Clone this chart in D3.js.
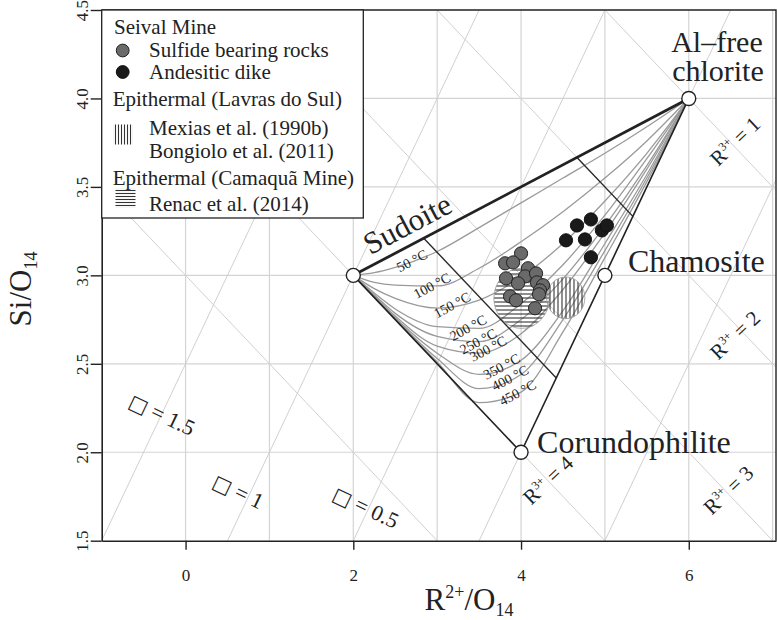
<!DOCTYPE html>
<html><head><meta charset="utf-8">
<script src="https://cdn.jsdelivr.net/npm/d3@7"></script>
<style>
body{margin:0;background:#fff;}
svg{display:block;font-family:"Liberation Serif","Times New Roman",serif;}
</style></head><body>
<svg id="chart" width="777" height="620"></svg>
<script>
// ---------- data ----------
const xTickValues = [0, 2, 4, 6];
const yTickValues = [1.5, 2.0, 2.5, 3.0, 3.5, 4.0, 4.5];
const xGridValues = [0, 1, 2, 3, 4, 5, 6, 7];
const yGridValues = [2.0, 2.5, 3.0, 3.5, 4.0];
const vacancyOffsets = [2.5, 1, -0.5, -2, -3.5];   // Si = R2 + c
const vacancyLabelText = ["1.5", "1", "0.5"];
const vacancyLabelR2 = [-0.28, 0.63, 2.15];
const vacancyLabelSi = [2.214, 1.78, 1.69];
const r3Intercepts = [7, 6, 5, 4, 3];               // Si = k - R2/2
const r3LabelText = ["1", "2", "3", "4"];
const r3LabelR2 = [6.55, 6.55, 6.47, 4.32];
const r3LabelSi = [3.759, 2.663, 1.787, 1.844];
const tieIntercepts = [6, 4.63];
const endMemberNames = ["Sudoite", "Al–free chlorite", "Chamosite", "Corundophilite"];
const endMemberR2 = [2, 6, 5, 4];
const endMemberSi = [3, 4, 3, 2];
const sulfideR2 = [4.00, 3.81, 3.905, 3.821, 4.083, 4.048, 4.179, 4.19, 3.964, 4.262, 4.226, 4.214, 3.869, 3.94, 4.167];
const sulfideSi = [3.124, 3.068, 3.073, 2.983, 3.04, 2.994, 3.011, 2.96, 2.955, 2.944, 2.915, 2.893, 2.881, 2.859, 2.814];
const dikeR2 = [4.667, 4.833, 4.964, 5.024, 4.536, 4.762, 4.833];
const dikeSi = [3.282, 3.316, 3.254, 3.282, 3.198, 3.203, 3.102];
const isothermT = [50, 100, 150, 200, 250, 300, 350, 400, 450];
const isothermR2 = [2, 2.25, 2.5, 3, 3.5, 4, 4.5, 5, 5.5, 6];
const isothermSi = [
  [3, 3.015, 3.045, 3.135, 3.27, 3.41, 3.55, 3.69, 3.84, 4],
  [3, 2.96, 2.945, 2.94, 3.04, 3.19, 3.36, 3.55, 3.76, 4],
  [3, 2.925, 2.87, 2.815, 2.86, 2.99, 3.18, 3.42, 3.69, 4],
  [3, 2.9, 2.81, 2.71, 2.70, 2.84, 3.06, 3.34, 3.66, 4],
  [3, 2.89, 2.785, 2.655, 2.625, 2.75, 2.98, 3.28, 3.62, 4],
  [3, 2.885, 2.77, 2.60, 2.56, 2.67, 2.92, 3.24, 3.60, 4],
  [3, 2.88, 2.76, 2.56, 2.44, 2.52, 2.80, 3.18, 3.57, 4],
  [3, 2.878, 2.755, 2.53, 2.36, 2.44, 2.75, 3.14, 3.55, 4],
  [3, 2.877, 2.752, 2.51, 2.28, 2.34, 2.68, 3.10, 3.53, 4]
];
const isothermLabelR2 = [2.70, 2.94, 3.18, 3.37, 3.49, 3.61, 3.77, 3.87, 3.96];
const fieldNames = ["Renac et al. (2014)", "Mexias / Bongiolo"];
const fieldR2 = [4.006, 4.533];
const fieldSi = [2.87, 2.873];
const fieldHalfR2 = [0.33, 0.228];
const fieldHalfSi = [0.17, 0.118];
const fieldPattern = ["hatchH", "hatchV"];

// ---------- scales ----------
const svg = d3.select("#chart");
const x = d3.scaleLinear().domain([-1, 7.04]).range([101.7, 776]);
const y = d3.scaleLinear().domain([1.5, 4.5]).range([540.7, 10]);
const [xmin, xmax] = x.domain(), [ymin, ymax] = y.domain();
const SERIF = "'Liberation Serif','Times New Roman',serif";

const defs = svg.append("defs");
defs.append("clipPath").attr("id", "plotClip").append("rect")
  .attr("x", x(xmin)).attr("y", y(ymax)).attr("width", x(xmax) - x(xmin)).attr("height", y(ymin) - y(ymax));
function hatch(id, vertical, gap) {
  const p = defs.append("pattern").attr("id", id).attr("patternUnits", "userSpaceOnUse")
    .attr("width", gap).attr("height", gap);
  if (vertical) p.append("line").attr("x1", gap / 2).attr("x2", gap / 2).attr("y1", 0).attr("y2", gap);
  else p.append("line").attr("y1", gap / 2).attr("y2", gap / 2).attr("x1", 0).attr("x2", gap);
  p.select("line").attr("stroke", "#333").attr("stroke-width", 1.1);
}
hatch("hatchH", false, 4);
hatch("hatchV", true, 4);
hatch("hatchHs", false, 3);
hatch("hatchVs", true, 3);

const plot = svg.append("g").attr("clip-path", "url(#plotClip)");

// grid
plot.selectAll(".vg").data(xGridValues).join("line")
  .attr("x1", d => x(d)).attr("x2", d => x(d)).attr("y1", y(ymin)).attr("y2", y(ymax))
  .attr("stroke", "#d4d4d4").attr("stroke-width", 1.2);
plot.selectAll(".hg").data(yGridValues).join("line")
  .attr("y1", d => y(d)).attr("y2", d => y(d)).attr("x1", x(xmin)).attr("x2", x(xmax))
  .attr("stroke", "#d4d4d4").attr("stroke-width", 1.2);

// vacancy and R3+ isolines
plot.selectAll(".vac").data(vacancyOffsets).join("line")
  .attr("x1", d => x(xmin)).attr("y1", d => y(xmin + d))
  .attr("x2", d => x(xmax)).attr("y2", d => y(xmax + d))
  .attr("stroke", "#d0d0d0").attr("stroke-width", 1);
plot.selectAll(".r3").data(r3Intercepts).join("line")
  .attr("x1", d => x(xmin)).attr("y1", d => y(d - xmin / 2))
  .attr("x2", d => x(xmax)).attr("y2", d => y(d - xmax / 2))
  .attr("stroke", "#d0d0d0").attr("stroke-width", 1);

// isotherms
const line = d3.line().x(d => x(d[0])).y(d => y(d[1])).curve(d3.curveMonotoneX);
isothermSi.forEach((si, i) => {
  plot.append("path").attr("d", line(isothermR2.map((r, j) => [r, si[j]])))
    .attr("fill", "none").attr("stroke", "#9a9a9a").attr("stroke-width", 1.3);
});

// hatched fields
fieldR2.forEach((r, i) => {
  plot.append("ellipse").attr("cx", x(r)).attr("cy", y(fieldSi[i]))
    .attr("rx", x(r + fieldHalfR2[i]) - x(r)).attr("ry", y(fieldSi[i]) - y(fieldSi[i] + fieldHalfSi[i]))
    .attr("fill", `url(#${fieldPattern[i]})`).attr("stroke", "#999").attr("stroke-width", 0.8);
});

// tie lines inside the triangle (R3+ isolines between top and right edges)
tieIntercepts.forEach(k => {
  const r2a = (k - 2.5) / 0.75, r2b = (k + 2) / 1.5;
  plot.append("line").attr("x1", x(r2a)).attr("y1", y(k - r2a / 2)).attr("x2", x(r2b)).attr("y2", y(k - r2b / 2))
    .attr("stroke", "#2a2a2a").attr("stroke-width", 1.4);
});

// triangle edges
const S = [endMemberR2[0], endMemberSi[0]], A = [endMemberR2[1], endMemberSi[1]], C = [endMemberR2[3], endMemberSi[3]];
plot.append("line").attr("x1", x(S[0])).attr("y1", y(S[1])).attr("x2", x(A[0])).attr("y2", y(A[1]))
  .attr("stroke", "#222").attr("stroke-width", 2.8);
plot.append("line").attr("x1", x(S[0])).attr("y1", y(S[1])).attr("x2", x(C[0])).attr("y2", y(C[1]))
  .attr("stroke", "#222").attr("stroke-width", 1.6);
plot.append("line").attr("x1", x(C[0])).attr("y1", y(C[1])).attr("x2", x(A[0])).attr("y2", y(A[1]))
  .attr("stroke", "#222").attr("stroke-width", 1.6);

// isotherm labels
isothermT.forEach((t, i) => {
  const lr = isothermLabelR2[i];
  const si = d3.scaleLinear().domain(isothermR2).range(isothermSi[i])(lr);
  plot.append("text").attr("transform", `translate(${x(lr)},${y(si)}) rotate(-28)`)
    .attr("text-anchor", "middle").attr("dy", "0.32em")
    .attr("font-family", SERIF).attr("font-size", 14).attr("fill", "#222")
    .text(`${t} °C`);
});

// data points
plot.selectAll(".sulf").data(sulfideR2).join("circle")
  .attr("cx", d => x(d)).attr("cy", (d, i) => y(sulfideSi[i])).attr("r", 6.6)
  .attr("fill", "#6a6a6a").attr("stroke", "#222").attr("stroke-width", 1);
plot.selectAll(".dike").data(dikeR2).join("circle")
  .attr("cx", d => x(d)).attr("cy", (d, i) => y(dikeSi[i])).attr("r", 6.6)
  .attr("fill", "#1a1a1a").attr("stroke", "#111").attr("stroke-width", 1);

// end-member vertices
plot.selectAll(".vert").data(endMemberR2).join("circle")
  .attr("cx", d => x(d)).attr("cy", (d, i) => y(endMemberSi[i])).attr("r", 7)
  .attr("fill", "#fff").attr("stroke", "#222").attr("stroke-width", 1.4);

// end-member labels
const vx = i => x(endMemberR2[i]), vy = i => y(endMemberSi[i]);
plot.append("text").attr("transform", `translate(${vx(0) + 17},${vy(0) - 20}) rotate(-27.8)`)
  .attr("font-family", SERIF).attr("font-size", 31).attr("fill", "#222").text(endMemberNames[0]);
const alf = endMemberNames[1].split(" ");
plot.append("text").attr("x", vx(1) + 74).attr("y", vy(1) - 46).attr("text-anchor", "end")
  .attr("font-family", SERIF).attr("font-size", 30).attr("fill", "#222").text(alf[0]);
plot.append("text").attr("x", vx(1) + 75).attr("y", vy(1) - 17).attr("text-anchor", "end")
  .attr("font-family", SERIF).attr("font-size", 30).attr("fill", "#222").text(alf[1]);
plot.append("text").attr("x", vx(2) + 23).attr("y", vy(2) - 3)
  .attr("font-family", SERIF).attr("font-size", 32).attr("fill", "#222").text(endMemberNames[2]);
plot.append("text").attr("x", vx(3) + 16).attr("y", vy(3) + 1)
  .attr("font-family", SERIF).attr("font-size", 32).attr("fill", "#222").text(endMemberNames[3]);

// vacancy labels
vacancyLabelText.forEach((t, i) => {
  const tx = plot.append("text").attr("transform", `translate(${x(vacancyLabelR2[i])},${y(vacancyLabelSi[i])}) rotate(25.3)`)
    .attr("text-anchor", "middle").attr("dy", "0.35em")
    .attr("font-family", SERIF).attr("font-size", 22).attr("fill", "#222");
  tx.append("tspan").attr("font-family", "'DejaVu Sans',sans-serif").attr("font-size", 20).text("\u25A1");
  tx.append("tspan").text(` = ${t}`);
});
// R3+ labels
r3LabelText.forEach((t, i) => {
  const tx = plot.append("text").attr("transform", `translate(${x(r3LabelR2[i])},${y(r3LabelSi[i])}) rotate(-43.5)`)
    .attr("text-anchor", "middle").attr("dy", "0.35em")
    .attr("font-family", SERIF).attr("font-size", 21).attr("fill", "#222");
  tx.append("tspan").text("R");
  tx.append("tspan").attr("font-size", 12).attr("dy", -8).text("3+");
  tx.append("tspan").attr("dy", 8).text(` = ${t}`);
});

// ---------- axes ----------
const gx = svg.append("g").attr("transform", `translate(0,${y(ymin)})`)
  .call(d3.axisBottom(x).tickValues(xTickValues).tickSize(9).tickSizeOuter(0).tickFormat(d3.format("d")));
gx.select(".domain").attr("stroke", "#222").attr("stroke-width", 1.6);
gx.selectAll(".tick line").attr("stroke", "#222").attr("stroke-width", 1.4);
gx.selectAll(".tick text").attr("y", 40).attr("dy", 0).attr("fill", "#222")
  .attr("font-family", SERIF).attr("font-size", 17);

const gy = svg.append("g").attr("transform", `translate(${x(xmin)},0)`)
  .call(d3.axisLeft(y).tickValues(yTickValues).tickSize(11).tickSizeOuter(0).tickFormat(d3.format(".1f")));
gy.select(".domain").attr("stroke", "#222").attr("stroke-width", 1.6);
gy.selectAll(".tick line").attr("stroke", "#222").attr("stroke-width", 1.4);
gy.selectAll(".tick text").attr("x", 0).attr("dy", 0).attr("text-anchor", "middle")
  .attr("transform", "translate(-14,0) rotate(-90)").attr("fill", "#222")
  .attr("font-family", SERIF).attr("font-size", 17);

// frame (top & right)
svg.append("path").attr("d", `M${x(xmin)},${y(ymax)}H${x(xmax)}V${y(ymin)}`)
  .attr("fill", "none").attr("stroke", "#222").attr("stroke-width", 1.4);

// axis titles
const xt = svg.append("text").attr("x", 469).attr("y", 610).attr("text-anchor", "middle")
  .attr("font-family", SERIF).attr("font-size", 31).attr("fill", "#222");
xt.append("tspan").text("R");
xt.append("tspan").attr("font-size", 18).attr("dy", -12).text("2+");
xt.append("tspan").attr("dy", 12).text("/O");
xt.append("tspan").attr("font-size", 18).attr("dy", 6).text("14");
const yt = svg.append("text").attr("transform", "translate(31,289) rotate(-90)").attr("text-anchor", "middle")
  .attr("font-family", SERIF).attr("font-size", 31).attr("fill", "#222");
yt.append("tspan").text("Si/O");
yt.append("tspan").attr("font-size", 18).attr("dy", 6).text("14");

// ---------- legend ----------
const lg = svg.append("g");
lg.append("rect").attr("x", x(xmin)).attr("y", y(ymax)).attr("width", 363.3 - x(xmin)).attr("height", 218 - y(ymax))
  .attr("fill", "#fff").attr("stroke", "#222").attr("stroke-width", 1.3);
const legendText = [
  ["Seival Mine", 114, 34], ["Sulfide bearing rocks", 149, 57], ["Andesitic dike", 149, 79],
  ["Epithermal (Lavras do Sul)", 112.7, 106], ["Mexias et al. (1990b)", 149, 135], ["Bongiolo et al. (2011)", 149, 158],
  ["Epithermal (Camaquã Mine)", 112.7, 185], ["Renac et al. (2014)", 149, 211]
];
legendText.forEach(([t, lx, ly]) => lg.append("text").attr("x", lx).attr("y", ly)
  .attr("font-family", SERIF).attr("font-size", 21).attr("fill", "#222").text(t));
lg.append("circle").attr("cx", 122.7).attr("cy", 50.5).attr("r", 6.4).attr("fill", "#6a6a6a").attr("stroke", "#222");
lg.append("circle").attr("cx", 122.7).attr("cy", 72).attr("r", 6.4).attr("fill", "#1a1a1a").attr("stroke", "#111");
lg.append("rect").attr("x", 113).attr("y", 124.5).attr("width", 20).attr("height", 20).attr("fill", "url(#hatchVs)");
lg.append("rect").attr("x", 115.5).attr("y", 188).attr("width", 20).attr("height", 20).attr("fill", "url(#hatchHs)");
</script>
</body></html>
